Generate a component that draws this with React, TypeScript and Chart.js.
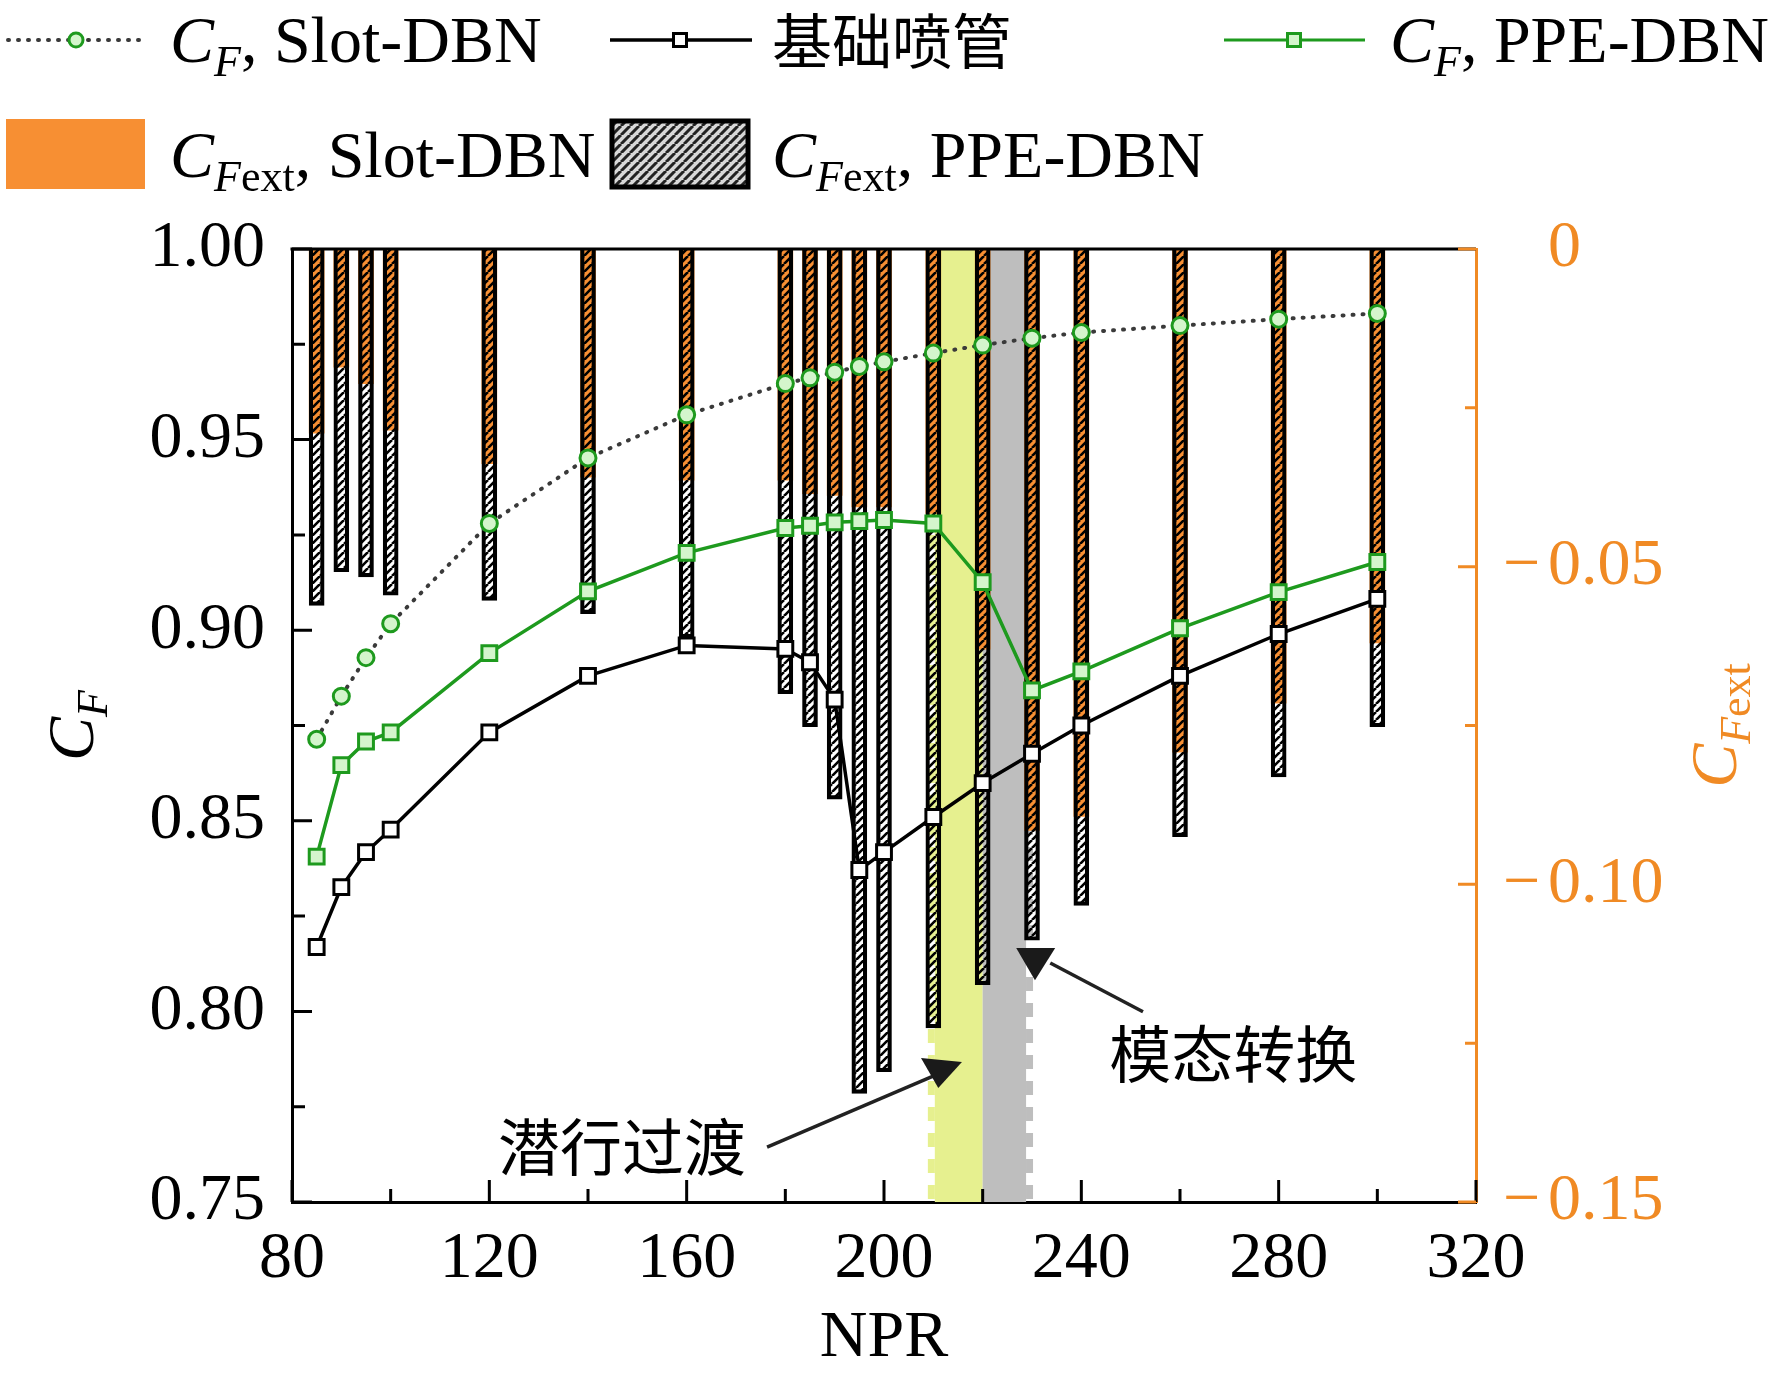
import { useEffect, useRef } from "react";
import { Chart, registerables } from "chart.js";

Chart.register(...registerables);

// NPR 工况点
const npr = [85, 90, 95, 100, 120, 140, 160, 180, 185, 190, 195, 200, 210, 220, 230, 240, 260, 280, 300];
// C_F 曲线
const cfSlot = [0.8714, 0.8827, 0.8928, 0.9017, 0.928, 0.9452, 0.9565, 0.9647, 0.9662, 0.9677, 0.9692, 0.9704, 0.9727, 0.9748, 0.9766, 0.9781, 0.9799, 0.9816, 0.9831];
const cfBase = [0.8169, 0.8326, 0.8418, 0.8477, 0.8732, 0.888, 0.896, 0.8951, 0.8916, 0.8818, 0.8371, 0.8418, 0.851, 0.8599, 0.8676, 0.875, 0.888, 0.899, 0.9082];
const cfPpe = [0.8406, 0.8646, 0.8708, 0.8732, 0.894, 0.9102, 0.9203, 0.9268, 0.9274, 0.9283, 0.9286, 0.9289, 0.928, 0.9126, 0.8842, 0.8892, 0.9005, 0.91, 0.9179];
// C_Fext 柱
const cfextSlot = [-0.029, -0.0186, -0.0212, -0.0285, -0.0338, -0.0359, -0.0364, -0.0364, -0.0385, -0.0388, -0.0406, -0.0406, -0.0416, -0.063, -0.0915, -0.0893, -0.0792, -0.0715, -0.062];
const cfextPpe = [-0.0561, -0.0508, -0.0516, -0.0545, -0.0553, -0.0574, -0.0612, -0.07, -0.0752, -0.0866, -0.1329, -0.1295, -0.1226, -0.1158, -0.1088, -0.1033, -0.0925, -0.0831, -0.0752];

// 刻度
const xTicks = [80, 120, 160, 200, 240, 280, 320];
const yTicks = [0.75, 0.8, 0.85, 0.9, 0.95, 1.0];
const yLabels = ["0.75", "0.80", "0.85", "0.90", "0.95", "1.00"];
const y2Ticks = [0, -0.05, -0.1, -0.15];
const y2Labels = ["0", "0.05", "0.10", "0.15"];

const SERIF = '"Liberation Serif", "Times New Roman", serif';
const CJK = '"Noto Sans CJK SC", sans-serif';
const ORANGE = "#f78f33";
const AXIS_ORANGE = "#f08a24";
const GREEN = "#1e9a1e";
const GREEN_FILL = "#d4f5cc";
const YELLOW = "#e6f08f";
const GREY = "#bebebe";

type Part = { t: string; italic?: boolean; size?: number; dy?: number; font?: string };

function richWidth(ctx: CanvasRenderingContext2D, parts: Part[]) {
  let w = 0;
  for (const p of parts) {
    ctx.font = `${p.italic ? "italic " : ""}${p.size || 66}px ${p.font || SERIF}`;
    w += ctx.measureText(p.t).width;
  }
  return w;
}

function drawRich(ctx: CanvasRenderingContext2D, x: number, y: number, parts: Part[]) {
  for (const p of parts) {
    ctx.font = `${p.italic ? "italic " : ""}${p.size || 66}px ${p.font || SERIF}`;
    ctx.fillText(p.t, x, y + (p.dy || 0));
    x += ctx.measureText(p.t).width;
  }
  return x;
}

const cf = (rest: string): Part[] => [
  { t: "C", italic: true },
  { t: "F", italic: true, size: 44, dy: 14 },
  { t: rest },
];
const cfext = (rest: string): Part[] => [
  { t: "C", italic: true },
  { t: "F", italic: true, size: 44, dy: 14 },
  { t: "ext", size: 44, dy: 14 },
  { t: rest },
];

function makeHatch(period: number, width: number, color: string) {
  const c = document.createElement("canvas");
  c.width = period;
  c.height = period;
  const g = c.getContext("2d")!;
  g.strokeStyle = color;
  g.lineWidth = width;
  g.beginPath();
  for (const o of [-period, 0, period]) {
    g.moveTo(o, period);
    g.lineTo(o + period, 0);
  }
  g.stroke();
  return g.createPattern(c, "repeat")!;
}

function drawMarker(ctx: CanvasRenderingContext2D, kind: string, x: number, y: number, r: number, fill: string, stroke: string) {
  ctx.beginPath();
  if (kind === "circle") ctx.arc(x, y, r, 0, Math.PI * 2);
  else ctx.rect(x - r, y - r, 2 * r, 2 * r);
  ctx.fillStyle = fill;
  ctx.fill();
  ctx.lineWidth = 3;
  ctx.strokeStyle = stroke;
  ctx.stroke();
}

const decor = {
  id: "decor",
  beforeDatasetsDraw(chart: any) {
    const { ctx, chartArea: a, scales } = chart;
    const x = scales.x;
    const h = a.bottom - a.top;
    ctx.save();
    // 潜行过渡 / 模态转换 区域
    let l = x.getPixelForValue(210.3);
    ctx.fillStyle = YELLOW;
    ctx.fillRect(l, a.top, x.getPixelForValue(220) - l, h);
    l = x.getPixelForValue(220);
    ctx.fillStyle = GREY;
    ctx.fillRect(l, a.top, x.getPixelForValue(228.8) - l, h);
    ctx.lineWidth = 7;
    ctx.setLineDash([14, 12]);
    ctx.strokeStyle = YELLOW;
    ctx.beginPath();
    ctx.moveTo(x.getPixelForValue(209.6), a.top);
    ctx.lineTo(x.getPixelForValue(209.6), a.bottom);
    ctx.stroke();
    ctx.strokeStyle = GREY;
    ctx.beginPath();
    ctx.moveTo(x.getPixelForValue(229.5), a.top);
    ctx.lineTo(x.getPixelForValue(229.5), a.bottom);
    ctx.stroke();
    ctx.restore();
  },
  afterDatasetsDraw(chart: any) {
    const { ctx, chartArea: a, scales } = chart;
    const { x, y, y2 } = scales;
    ctx.save();
    ctx.lineWidth = 3;
    ctx.strokeStyle = "#000";
    ctx.beginPath();
    ctx.moveTo(a.left - 1.5, a.top);
    ctx.lineTo(a.right, a.top);
    ctx.stroke();
    // 左轴刻度（朝内）
    ctx.beginPath();
    for (let i = 0; i < yTicks.length; i++) {
      const vs = [yTicks[i]];
      if (i < yTicks.length - 1) vs.push((yTicks[i] + yTicks[i + 1]) / 2);
      vs.forEach((v, k) => {
        const py = y.getPixelForValue(v);
        ctx.moveTo(a.left, py);
        ctx.lineTo(a.left + (k === 0 ? 20 : 13), py);
      });
    }
    // 底轴刻度
    for (let i = 0; i < xTicks.length; i++) {
      const vs = [xTicks[i]];
      if (i < xTicks.length - 1) vs.push((xTicks[i] + xTicks[i + 1]) / 2);
      vs.forEach((v, k) => {
        const px = x.getPixelForValue(v);
        ctx.moveTo(px, a.bottom);
        ctx.lineTo(px, a.bottom - (k === 0 ? 22 : 13));
      });
    }
    ctx.stroke();
    // 右轴刻度
    ctx.strokeStyle = AXIS_ORANGE;
    ctx.beginPath();
    for (let i = 0; i < y2Ticks.length; i++) {
      const vs = [y2Ticks[i]];
      if (i < y2Ticks.length - 1) vs.push((y2Ticks[i] + y2Ticks[i + 1]) / 2);
      vs.forEach((v, k) => {
        const py = y2.getPixelForValue(v);
        ctx.moveTo(a.right, py);
        ctx.lineTo(a.right - (k === 0 ? 18 : 11), py);
      });
    }
    ctx.stroke();
    ctx.restore();
  },
  afterDraw(chart: any) {
    const { ctx, chartArea: a, scales } = chart;
    const { x, y, y2 } = scales;
    ctx.save();
    ctx.textBaseline = "alphabetic";
    ctx.textAlign = "left";

    // 右轴标签
    ctx.fillStyle = AXIS_ORANGE;
    ctx.textBaseline = "middle";
    ctx.font = `66px ${SERIF}`;
    y2Ticks.forEach((v, i) => {
      const py = y2.getPixelForValue(v);
      if (v < 0) ctx.fillText("\u2212", a.right + 27, py);
      ctx.fillText(y2Labels[i], a.right + 72, py);
    });

    // 坐标轴标题
    ctx.textBaseline = "alphabetic";
    ctx.fillStyle = "#000";
    const t1 = cf("");
    ctx.save();
    ctx.translate(93, (a.top + a.bottom) / 2);
    ctx.rotate(-Math.PI / 2);
    drawRich(ctx, -richWidth(ctx, t1) / 2, 0, t1);
    ctx.restore();

    ctx.fillStyle = AXIS_ORANGE;
    const t2 = cfext("");
    ctx.save();
    ctx.translate(1736, (a.top + a.bottom) / 2);
    ctx.rotate(-Math.PI / 2);
    drawRich(ctx, -richWidth(ctx, t2) / 2, 0, t2);
    ctx.restore();

    ctx.fillStyle = "#000";
    ctx.font = `66px ${SERIF}`;
    ctx.textAlign = "center";
    ctx.fillText("NPR", x.getPixelForValue(200), 1356);

    // 标注
    const P = (nx: number, c: number): [number, number] => [x.getPixelForValue(nx), y.getPixelForValue(c)];
    ctx.strokeStyle = "#222";
    ctx.fillStyle = "#1a1a1a";
    ctx.lineWidth = 3.5;
    const arrows = [
      { line: [P(176.3, 0.7644), P(212.8, 0.7846)], head: [P(207.5, 0.7878), P(215.8, 0.7867), P(211.0, 0.7799)] },
      { line: [P(252.5, 0.7999), P(233.7, 0.8127)], head: [P(226.8, 0.8166), P(234.7, 0.8166), P(230.6, 0.8082)] },
    ];
    for (const ar of arrows) {
      ctx.beginPath();
      ctx.moveTo(...ar.line[0]);
      ctx.lineTo(...ar.line[1]);
      ctx.stroke();
      ctx.beginPath();
      ctx.moveTo(...ar.head[0]);
      ctx.lineTo(...ar.head[1]);
      ctx.lineTo(...ar.head[2]);
      ctx.closePath();
      ctx.fill();
    }
    ctx.fillStyle = "#000";
    ctx.font = `62px ${CJK}`;
    ctx.textBaseline = "middle";
    ctx.fillText("潜行过渡", ...P(146.9, 0.7644));
    ctx.fillText("模态转换", ...P(270.8, 0.7888));

    // 图例
    ctx.textAlign = "left";
    ctx.textBaseline = "alphabetic";
    const rowY = 40;
    ctx.lineWidth = 4;
    ctx.strokeStyle = "#3a3a3a";
    ctx.lineCap = "round";
    ctx.setLineDash([1, 9]);
    ctx.beginPath();
    ctx.moveTo(8, rowY);
    ctx.lineTo(141, rowY);
    ctx.stroke();
    ctx.setLineDash([]);
    ctx.lineCap = "butt";
    drawMarker(ctx, "circle", 76, rowY, 7, GREEN_FILL, GREEN);

    ctx.lineWidth = 3.5;
    ctx.strokeStyle = "#000";
    ctx.beginPath();
    ctx.moveTo(610, rowY);
    ctx.lineTo(752, rowY);
    ctx.stroke();
    drawMarker(ctx, "rect", 680, rowY, 6.5, "#fff", "#000");

    ctx.strokeStyle = GREEN;
    ctx.beginPath();
    ctx.moveTo(1224, rowY);
    ctx.lineTo(1365, rowY);
    ctx.stroke();
    drawMarker(ctx, "rect", 1294, rowY, 6.5, GREEN_FILL, GREEN);

    ctx.fillStyle = "#000";
    drawRich(ctx, 170, 62, cf(", Slot-DBN"));
    ctx.font = `60px ${CJK}`;
    ctx.fillText("基础喷管", 772, 64);
    ctx.fillStyle = "#000";
    drawRich(ctx, 1390, 62, cf(", PPE-DBN"));

    ctx.fillStyle = ORANGE;
    ctx.fillRect(6, 119, 139, 70);
    ctx.fillStyle = "#d8d8d8";
    ctx.fillRect(612, 121, 136, 66);
    ctx.fillStyle = makeHatch(9, 3, "#222");
    ctx.fillRect(612, 121, 136, 66);
    ctx.lineWidth = 5;
    ctx.strokeStyle = "#000";
    ctx.strokeRect(612, 121, 136, 66);
    ctx.fillStyle = "#000";
    drawRich(ctx, 170, 177, cfext(", Slot-DBN"));
    drawRich(ctx, 772, 177, cfext(", PPE-DBN"));
    ctx.restore();
  },
};

export default function App() {
  const canvasRef = useRef<HTMLCanvasElement>(null);
  const chartRef = useRef<Chart | null>(null);

  useEffect(() => {
    if (!canvasRef.current) return;
    if (chartRef.current) chartRef.current.destroy();
    const hatch = makeHatch(8, 2.6, "#000");
    const pts = (ys: number[]) => npr.map((n, i) => ({ x: n, y: ys[i] }));

    chartRef.current = new Chart(canvasRef.current, {
      type: "bar",
      data: {
        datasets: [
          {
            type: "bar",
            label: "CFext Slot-DBN",
            data: pts(cfextSlot),
            yAxisID: "y2",
            backgroundColor: ORANGE,
            borderWidth: 0,
            barThickness: 15,
            grouped: false,
            order: 5,
          },
          {
            type: "bar",
            label: "CFext PPE-DBN",
            data: pts(cfextPpe),
            yAxisID: "y2",
            backgroundColor: hatch,
            borderColor: "#000",
            borderWidth: 3.5,
            barThickness: 15,
            grouped: false,
            order: 4,
          },
          {
            type: "line",
            label: "CF Slot-DBN",
            data: pts(cfSlot),
            yAxisID: "y",
            borderColor: "#3a3a3a",
            borderWidth: 4,
            borderDash: [1, 9],
            borderCapStyle: "round",
            tension: 0,
            pointStyle: "circle",
            pointRadius: 8,
            pointBorderWidth: 3,
            pointBorderColor: GREEN,
            pointBackgroundColor: GREEN_FILL,
            order: 3,
          },
          {
            type: "line",
            label: "基础喷管",
            data: pts(cfBase),
            yAxisID: "y",
            borderColor: "#000",
            borderWidth: 3.5,
            tension: 0,
            pointStyle: "rect",
            pointRadius: 10.5,
            pointBorderWidth: 3,
            pointBorderColor: "#000",
            pointBackgroundColor: "#fff",
            order: 2,
          },
          {
            type: "line",
            label: "CF PPE-DBN",
            data: pts(cfPpe),
            yAxisID: "y",
            borderColor: GREEN,
            borderWidth: 3.5,
            tension: 0,
            pointStyle: "rect",
            pointRadius: 10.5,
            pointBorderWidth: 3,
            pointBorderColor: GREEN,
            pointBackgroundColor: GREEN_FILL,
            order: 1,
          },
        ] as any,
      },
      options: {
        responsive: true,
        maintainAspectRatio: false,
        animation: false,
        events: [],
        layout: { padding: { top: 249, left: 0, right: 0, bottom: 0 } },
        plugins: { legend: { display: false }, tooltip: { enabled: false } },
        scales: {
          x: {
            type: "linear",
            min: 80,
            max: 320,
            offset: false,
            grid: { display: false, drawTicks: false },
            border: { display: true, color: "#000", width: 3 },
            afterBuildTicks: (s: any) => {
              s.ticks = xTicks.map((v) => ({ value: v }));
            },
            afterFit: (s: any) => {
              s.height = 173;
            },
            ticks: {
              color: "#000",
              font: { family: SERIF, size: 66 },
              padding: 18,
              maxRotation: 0,
              autoSkip: false,
            },
          },
          y: {
            type: "linear",
            position: "left",
            min: 0.75,
            max: 1.0,
            grid: { display: false, drawTicks: false },
            border: { display: true, color: "#000", width: 3 },
            afterBuildTicks: (s: any) => {
              s.ticks = yTicks.map((v) => ({ value: v }));
            },
            afterFit: (s: any) => {
              s.width = 292;
            },
            ticks: {
              color: "#000",
              font: { family: SERIF, size: 66 },
              padding: 27,
              callback: (v: any) => yLabels[yTicks.findIndex((t) => Math.abs(t - Number(v)) < 1e-6)] ?? "",
            },
          },
          y2: {
            type: "linear",
            position: "right",
            min: -0.15,
            max: 0,
            grid: { display: false, drawTicks: false },
            border: { display: true, color: AXIS_ORANGE, width: 3 },
            afterFit: (s: any) => {
              s.width = 296;
            },
            ticks: { display: false },
          },
        },
      } as any,
      plugins: [decor],
    });

    return () => {
      if (chartRef.current) {
        chartRef.current.destroy();
        chartRef.current = null;
      }
    };
  }, []);

  return (
    <div style={{ position: "absolute", left: 0, top: 0, width: 1772, height: 1375, background: "#fff" }}>
      <canvas ref={canvasRef}></canvas>
    </div>
  );
}
